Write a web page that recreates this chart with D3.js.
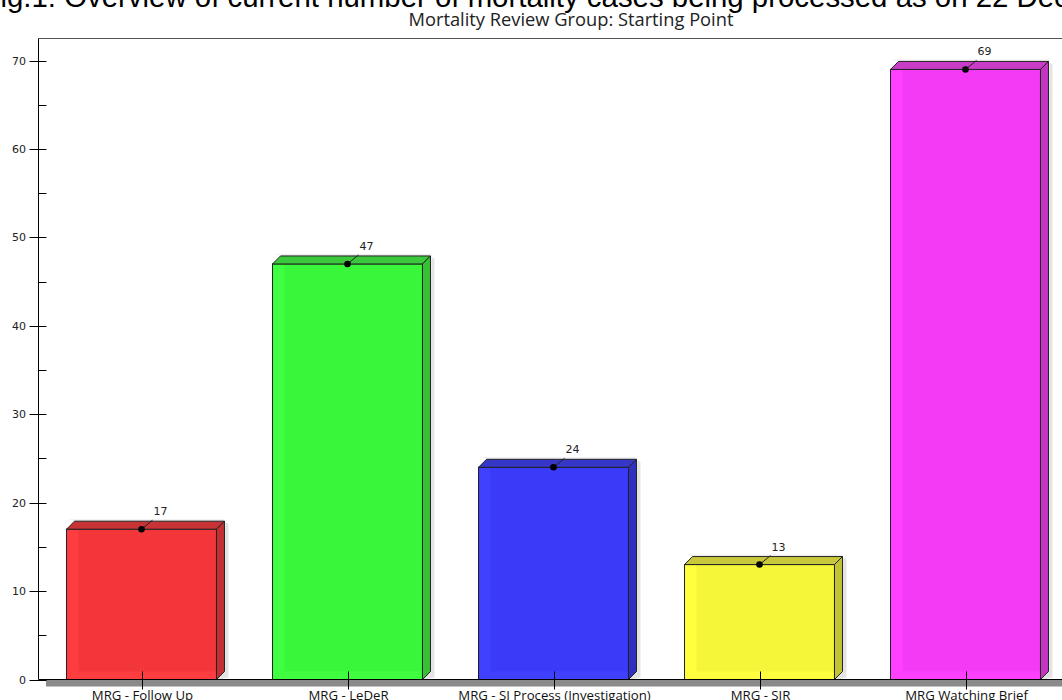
<!DOCTYPE html>
<html><head><meta charset="utf-8">
<script src="https://cdn.jsdelivr.net/npm/d3@7"></script>
<style>html,body{margin:0;padding:0;background:#fff;overflow:hidden}svg{display:block}</style>
</head><body>
<svg id="c" width="1062" height="700"></svg>
<script>
const categories = ["MRG - Follow Up", "MRG - LeDeR", "MRG - SI Process (Investigation)", "MRG - SJR", "MRG Watching Brief"];
const values = [17, 47, 24, 13, 69];
const majorTicks = [0, 10, 20, 30, 40, 50, 60, 70];
const minorTicks = [5, 15, 25, 35, 45, 55, 65];
const figCaption = "Fig.1: Overview of current number of mortality cases being processed as on 22 Dec";
const chartTitle = "Mortality Review Group: Starting Point";

const frontColors = ["#f3363a", "#3af63a", "#3a3af8", "#f5f53a", "#f53af5"];
const lightColors = ["#fd3d40", "#40ff40", "#4040ff", "#ffff40", "#ff40ff"];
const topColors   = ["#c83436", "#3cc83c", "#3636c8", "#c8c83a", "#c83cc8"];
const sideColors  = ["#c23032", "#36c036", "#3030c0", "#c2c234", "#c236c2"];

const svg = d3.select("#c");
const L = 38.5, R = 1068.5, T = 38.5, B = 679.5;
const depth = 8;

const x = d3.scaleBand().domain(categories).range([L, R]).paddingInner(0.272).paddingOuter(0.136);
const y = d3.scaleLinear().domain([0, 72.5]).range([B, T]);

// caption cut at top
svg.append("text").attr("x", -17.5).attr("y", 6.5)
  .attr("font-family", "Liberation Sans, Arial, sans-serif").attr("font-size", 29.4)
  .attr("fill", "#000").text(figCaption);

// title
svg.append("text").attr("x", 571).attr("y", 26).attr("text-anchor", "middle")
  .attr("font-family", "Open Sans, sans-serif").attr("font-size", 18.3).attr("fill", "#222")
  .text(chartTitle);

// frame top
svg.append("line").attr("x1", L).attr("x2", 1062).attr("y1", T).attr("y2", T)
  .attr("stroke", "#555").attr("stroke-width", 1);

// bottom shadow band
svg.append("rect").attr("x", 46).attr("y", B + 0.5).attr("width", 1062 - 46).attr("height", 6.5)
  .attr("fill", "#8a8a8a");

// bars
const g = svg.append("g");
values.forEach((v, i) => {
  const x0 = x(categories[i]), w = x.bandwidth();
  const yt = y(v), h = B - yt;
  const bg = g.append("g");
  bg.append("path").attr("d", `M${x0 + w + depth + 1},${yt - depth + 1} L${x0 + w + depth + 4},${yt - depth + 3} L${x0 + w + depth + 4},${B - 2} L${x0 + w + 2},${B} L${x0 + w + 1},${B} Z`)
    .attr("fill", "#ddd").attr("opacity", 0.8);
  bg.append("path").attr("d", `M${x0 + 2},${yt - depth - 2} L${x0 + w + depth},${yt - depth - 2} L${x0 + w + depth},${yt - depth} L${x0 + depth},${yt - depth} Z`)
    .attr("fill", "#eee");
  bg.append("rect").attr("x", x0).attr("y", yt).attr("width", w).attr("height", h).attr("fill", frontColors[i]);
  bg.append("rect").attr("x", x0).attr("y", yt).attr("width", 12).attr("height", h).attr("fill", lightColors[i]);
  bg.append("rect").attr("x", x0).attr("y", B - 8).attr("width", w).attr("height", 8).attr("fill", lightColors[i]);
  bg.append("rect").attr("x", x0).attr("y", yt).attr("width", w).attr("height", h)
    .attr("fill", "none").attr("stroke", "#222").attr("stroke-width", 1);
  bg.append("path").attr("d", `M${x0},${yt} L${x0 + depth},${yt - depth} L${x0 + w + depth},${yt - depth} L${x0 + w},${yt} Z`)
    .attr("fill", topColors[i]).attr("stroke", "#222").attr("stroke-width", 1).attr("stroke-linejoin", "round");
  bg.append("path").attr("d", `M${x0 + w},${yt} L${x0 + w + depth},${yt - depth} L${x0 + w + depth},${B - depth} L${x0 + w},${B} Z`)
    .attr("fill", sideColors[i]).attr("stroke", "#222").attr("stroke-width", 1).attr("stroke-linejoin", "round");
  const cx = x0 + w / 2;
  bg.append("line").attr("x1", cx).attr("y1", yt).attr("x2", cx + 11).attr("y2", yt - 9)
    .attr("stroke", "#222").attr("stroke-width", 1);
  bg.append("circle").attr("cx", cx).attr("cy", yt).attr("r", 3.3).attr("fill", "#000");
  bg.append("text").attr("x", cx + 19).attr("y", yt - 14).attr("text-anchor", "middle")
    .attr("font-family", "DejaVu Sans, sans-serif").attr("font-size", 11).attr("fill", "#222")
    .text(v);
});

// y axis
svg.append("line").attr("x1", L).attr("x2", L).attr("y1", T).attr("y2", B).attr("stroke", "#000");
const yAxis = svg.append("g");
majorTicks.forEach(t => {
  yAxis.append("line").attr("x1", L - 9).attr("x2", L + 8).attr("y1", Math.round(y(t)) + 0.5).attr("y2", Math.round(y(t)) + 0.5).attr("stroke", "#000");
  yAxis.append("text").attr("x", 26).attr("y", y(t) + 4).attr("text-anchor", "end")
    .attr("font-family", "DejaVu Sans, sans-serif").attr("font-size", 11).attr("fill", "#222").text(t);
});
minorTicks.forEach(t => {
  yAxis.append("line").attr("x1", L).attr("x2", L + 8).attr("y1", Math.round(y(t)) + 0.5).attr("y2", Math.round(y(t)) + 0.5).attr("stroke", "#000");
});

// x axis
svg.append("line").attr("x1", L).attr("x2", 1062).attr("y1", B).attr("y2", B).attr("stroke", "#000");
categories.forEach(c => {
  const cx = Math.round(x(c) + x.bandwidth() / 2) + 0.5;
  svg.append("line").attr("x1", cx).attr("x2", cx).attr("y1", B - 8).attr("y2", B + 10).attr("stroke", "#000");
  svg.append("text").attr("x", cx).attr("y", 700).attr("text-anchor", "middle")
    .attr("font-family", "Open Sans, sans-serif").attr("font-size", 13.2).attr("fill", "#111").text(c);
});
</script>
</body></html>
